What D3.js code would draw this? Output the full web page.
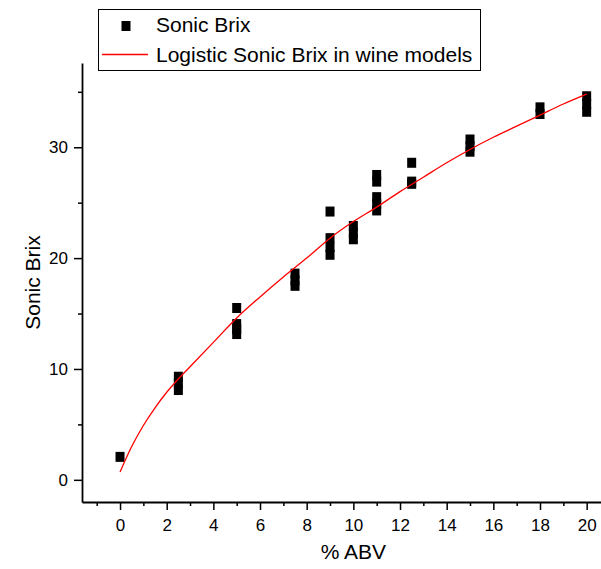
<!DOCTYPE html>
<html>
<head>
<meta charset="utf-8">
<script src="https://cdn.jsdelivr.net/npm/d3@7"></script>
<style>
  body { margin: 0; background: #fff; }
  svg { display: block; font-family: "Liberation Sans", Arial, sans-serif; }
</style>
</head>
<body>
<div id="chart"></div>
<script>
// measured points (x = % ABV, y = Sonic Brix)
const abv = [0,
  2.5, 2.5, 2.5,
  5, 5, 5, 5,
  7.5, 7.5, 7.5,
  9, 9, 9, 9,
  10, 10, 10,
  11, 11, 11, 11, 11,
  12.5, 12.5, 12.5,
  15, 15, 15,
  18, 18,
  20, 20, 20]
const brix = [2.07,
  9.3, 8.7, 8.1,
  15.5, 14.05, 13.6, 13.15,
  18.6, 18.0, 17.5,
  24.2, 21.8, 21.0, 20.3,
  22.9, 22.3, 21.7,
  27.5, 26.9, 25.5, 24.9, 24.3,
  28.6, 26.9, 26.7,
  30.7, 30.1, 29.6,
  33.6, 33.0,
  34.6, 33.9, 33.2]

// fitted logistic curve
const fitX = [0, 0.5, 1, 1.5, 2, 2.5, 3, 4, 5, 6, 7, 8, 9, 10, 11, 12, 13, 14, 15, 16, 17, 18, 19, 20]
const fitY = [0.7, 3.0, 4.9, 6.5, 7.9, 9.1, 10.2, 12.4, 14.6, 16.5, 18.3, 20.0, 21.8, 23.3, 24.6, 26.0, 27.3, 28.6, 29.8, 30.9, 31.9, 32.9, 33.9, 34.8]

const xTicks = [0, 2, 4, 6, 8, 10, 12, 14, 16, 18, 20]
const xMinor = [-1, 1, 3, 5, 7, 9, 11, 13, 15, 17, 19, 21]
const yTicks = [0, 10, 20, 30]
const yMinor = [5, 15, 25, 35]

const width = 601
const height = 569
const margin = {left: 82, top: 63, bottom: 67}

const svg = d3.select("#chart")
    .append("svg")
    .attr("width", width)
    .attr("height", height)

const x = d3.scaleLinear()
    .domain([-1.63, 21.6])
    .range([margin.left, 624])

const y = d3.scaleLinear()
    .domain([-2, 37.6])
    .range([height - margin.bottom, margin.top])

const x0 = height - margin.bottom

// axes
const xAxis = svg.append("g")
    .attr("transform", `translate(0,${x0})`)
    .call(d3.axisBottom(x).tickValues(xTicks).tickSize(8).tickPadding(9).tickSizeOuter(0))
svg.append("g")
    .attr("transform", `translate(0,${x0})`)
    .call(d3.axisBottom(x).tickValues(xMinor).tickSize(4).tickFormat("").tickSizeOuter(0))
    .call(g => g.select(".domain").remove())

const yAxis = svg.append("g")
    .attr("transform", `translate(${margin.left},0)`)
    .call(d3.axisLeft(y).tickValues(yTicks).tickSize(8).tickPadding(6).tickSizeOuter(0))
svg.append("g")
    .attr("transform", `translate(${margin.left},0)`)
    .call(d3.axisLeft(y).tickValues(yMinor).tickSize(4).tickFormat("").tickSizeOuter(0))
    .call(g => g.select(".domain").remove())

svg.selectAll(".domain").attr("stroke-width", 1.8)
svg.selectAll(".tick line").attr("stroke-width", 1.5)
svg.selectAll(".tick text")
    .style("font-size", "17px")
    .style("font-family", "'Liberation Sans', Arial, sans-serif")
    .attr("fill", "#000")

// axis titles
svg.append("text")
    .attr("x", x(10))
    .attr("y", 559)
    .attr("text-anchor", "middle")
    .style("font-size", "21px")
    .text("% ABV")

svg.append("text")
    .attr("transform", `translate(40,${(margin.top + x0) / 2}) rotate(-90)`)
    .attr("text-anchor", "middle")
    .style("font-size", "21px")
    .text("Sonic Brix")

// data squares
svg.append("g")
    .selectAll("rect")
    .data(abv.map((d, i) => [d, brix[i]]))
    .join("rect")
    .attr("x", d => x(d[0]) - 4.5)
    .attr("y", d => y(d[1]) - 5)
    .attr("width", 9)
    .attr("height", 10)
    .attr("fill", "#000")

// fit line
const line = d3.line()
    .x(d => x(d[0]))
    .y(d => y(d[1]))
    .curve(d3.curveMonotoneX)

svg.append("path")
    .datum(fitX.map((d, i) => [d, fitY[i]]))
    .attr("d", line)
    .attr("fill", "none")
    .attr("stroke", "#ff0000")
    .attr("stroke-width", 1.3)

// legend
const legend = svg.append("g")
legend.append("rect")
    .attr("x", 98.5)
    .attr("y", 9.5)
    .attr("width", 382)
    .attr("height", 61)
    .attr("fill", "#fff")
    .attr("stroke", "#000")
    .attr("stroke-width", 1)
legend.append("rect")
    .attr("x", 121.5)
    .attr("y", 21)
    .attr("width", 9)
    .attr("height", 10)
    .attr("fill", "#000")
legend.append("line")
    .attr("x1", 102)
    .attr("x2", 148)
    .attr("y1", 54.5)
    .attr("y2", 54.5)
    .attr("stroke", "#ff0000")
    .attr("stroke-width", 1.3)
legend.append("text")
    .attr("x", 156)
    .attr("y", 32)
    .style("font-size", "21px")
    .text("Sonic Brix")
legend.append("text")
    .attr("x", 156)
    .attr("y", 62)
    .style("font-size", "21px")
    .text("Logistic Sonic Brix in wine models")
</script>
</body>
</html>
